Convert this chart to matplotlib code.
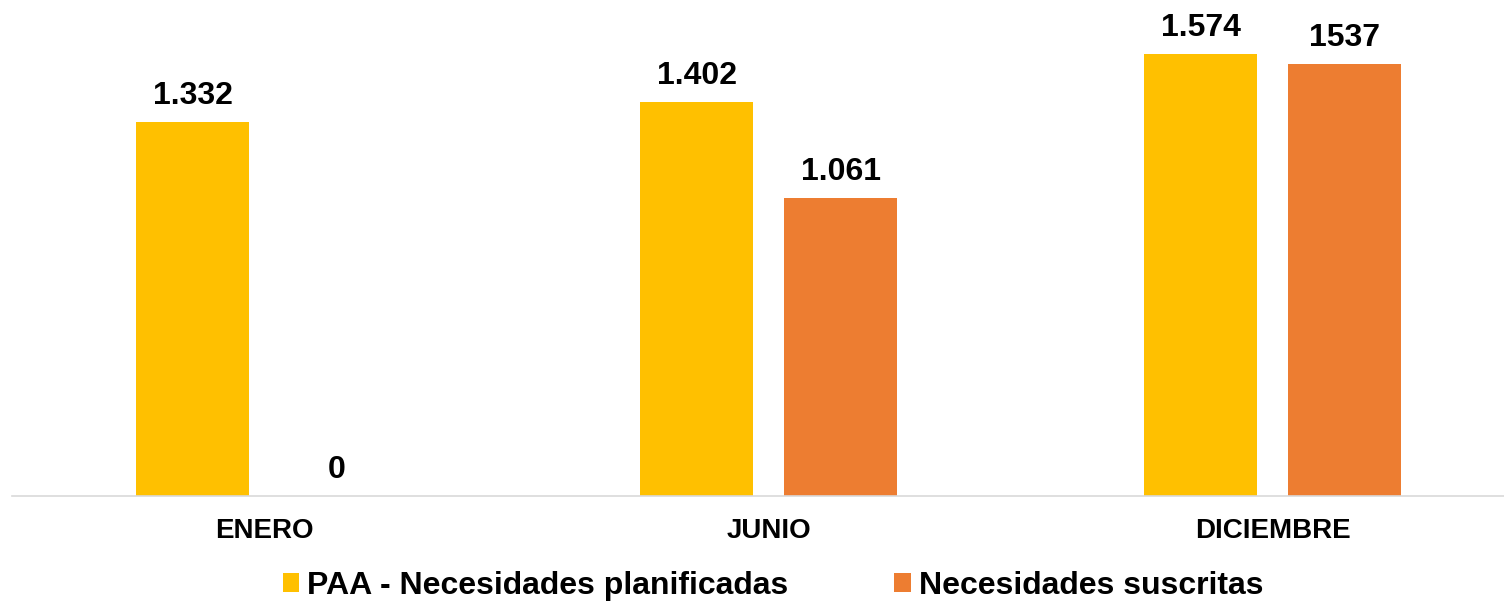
import matplotlib
matplotlib.use("Agg")
import matplotlib.pyplot as plt
import numpy as np

plt.rcParams['font.family'] = ['Liberation Sans', 'DejaVu Sans']

categories = ['ENERO', 'JUNIO', 'DICIEMBRE']
series_names = ['PAA - Necesidades planificadas', 'Necesidades suscritas']
planificadas = [1332, 1402, 1574]
suscritas = [0, 1061, 1537]
labels_plan = ['1.332', '1.402', '1.574']
labels_susc = ['0', '1.061', '1537']

colors = ['#FFC000', '#ED7D31']


def main():
    fig = plt.figure(figsize=(15.04, 6.04), dpi=100)
    ax = fig.add_axes([12 / 1504, 108 / 604, 1 - 12 / 1504, 496 / 604])

    x = np.arange(len(categories))
    width = 0.224
    offset = 0.143

    b1 = ax.bar(x - offset, planificadas, width, color=colors[0], label=series_names[0])
    b2 = ax.bar(x + offset, suscritas, width, color=colors[1], label=series_names[1])

    for bars, labels in ((b1, labels_plan), (b2, labels_susc)):
        for rect, lab in zip(bars, labels):
            ax.annotate(lab, (rect.get_x() + rect.get_width() / 2, rect.get_height()),
                        xytext=(0, 13), textcoords='offset points',
                        ha='center', va='baseline', fontsize=23, fontweight='bold')

    ax.set_xlim(-0.501, 2.459)
    ax.set_ylim(0, 1766)
    ax.set_xticks(x)
    ax.set_xticklabels(categories, fontsize=20, fontweight='bold')
    ax.tick_params(axis='x', length=0, pad=16)
    ax.set_yticks([])
    for s in ('top', 'right', 'left'):
        ax.spines[s].set_visible(False)
    ax.spines['bottom'].set_color('#D9D9D9')
    ax.spines['bottom'].set_linewidth(1.2)

    fig.legend(loc='center', bbox_to_anchor=(773 / 1504, 1 - 586 / 604), ncol=2,
               frameon=False, prop={'size': 23, 'weight': 'bold'},
               handlelength=0.52, handleheight=0.52, handletextpad=0.25,
               columnspacing=3.3, borderpad=0)

    fig.savefig('out.png', dpi=100)


if __name__ == "__main__":
    main()
